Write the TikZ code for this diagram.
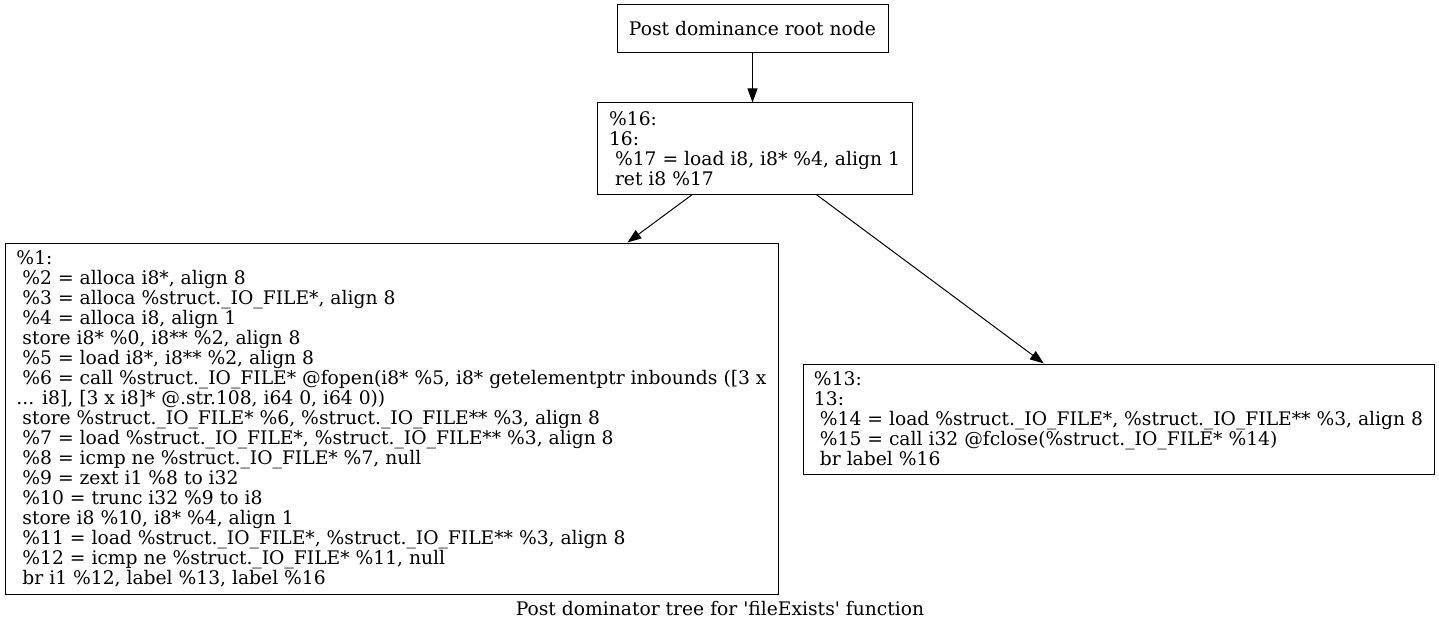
\documentclass[tikz,border=0pt]{standalone}
\usepackage{fontspec}
\setmainfont{DejaVu Serif}
\usetikzlibrary{arrows.meta}
\tikzstyle{block}=[draw, line width=1pt, inner sep=0pt, align=left, font=\fontsize{18.7}{20}\selectfont]
\tikzstyle{edge}=[line width=1pt, -{Triangle[length=14pt,width=10pt]}]

\begin{document}
\begin{tikzpicture}[x=1pt, y=-1pt]
        \useasboundingbox (0,0) rectangle (1439,631);
        \node[block, minimum width=271pt, minimum height=48pt] (root) at (752.5, 29) {Post dominance root node};
        \node[block, minimum width=315pt, minimum height=91pt] (bb16) at (754.5, 148.5) {\%16:\\16:\\\ \%17 = load i8, i8* \%4, align 1\\\ ret i8 \%17};
        \node[block, minimum width=773pt, minimum height=351pt] (bb1) at (391.5, 418.5) {\%1:\\
            \ \%2 = alloca i8*, align 8\\
            \ \%3 = alloca \%struct.\_IO\_FILE*, align 8\\
            \ \%4 = alloca i8, align 1\\
            \ store i8* \%0, i8** \%2, align 8\\
            \ \%5 = load i8*, i8** \%2, align 8\\
            \ \%6 = call \%struct.\_IO\_FILE* @fopen(i8* \%5, i8* getelementptr inbounds ([3 x\\
            ... i8], [3 x i8]* @.str.108, i64 0, i64 0))\\
            \ store \%struct.\_IO\_FILE* \%6, \%struct.\_IO\_FILE** \%3, align 8\\
            \ \%7 = load \%struct.\_IO\_FILE*, \%struct.\_IO\_FILE** \%3, align 8\\
            \ \%8 = icmp ne \%struct.\_IO\_FILE* \%7, null\\
            \ \%9 = zext i1 \%8 to i32\\
            \ \%10 = trunc i32 \%9 to i8\\
            \ store i8 \%10, i8* \%4, align 1\\
            \ \%11 = load \%struct.\_IO\_FILE*, \%struct.\_IO\_FILE** \%3, align 8\\
            \ \%12 = icmp ne \%struct.\_IO\_FILE* \%11, null\\
            \ br i1 \%12, label \%13, label \%16};
        \node[block, minimum width=631pt, minimum height=110pt] (bb13) at (1118.5, 419) {\%13:\\13:\\
            \ \%14 = load \%struct.\_IO\_FILE*, \%struct.\_IO\_FILE** \%3, align 8\\
            \ \%15 = call i32 @fclose(\%struct.\_IO\_FILE* \%14)\\
            \ br label \%16};
        \node[font=\fontsize{18.7}{20}\selectfont, inner sep=0pt] (caption) at (720, 609) {Post dominator tree for \textquotesingle fileExists\textquotesingle\ function};
        \draw[edge] (root) -- (root |- bb16.north);
        \draw[edge] (bb16) -- (bb1);
        \draw[edge] (bb16) -- (bb13);
    \end{tikzpicture}
\end{document}
